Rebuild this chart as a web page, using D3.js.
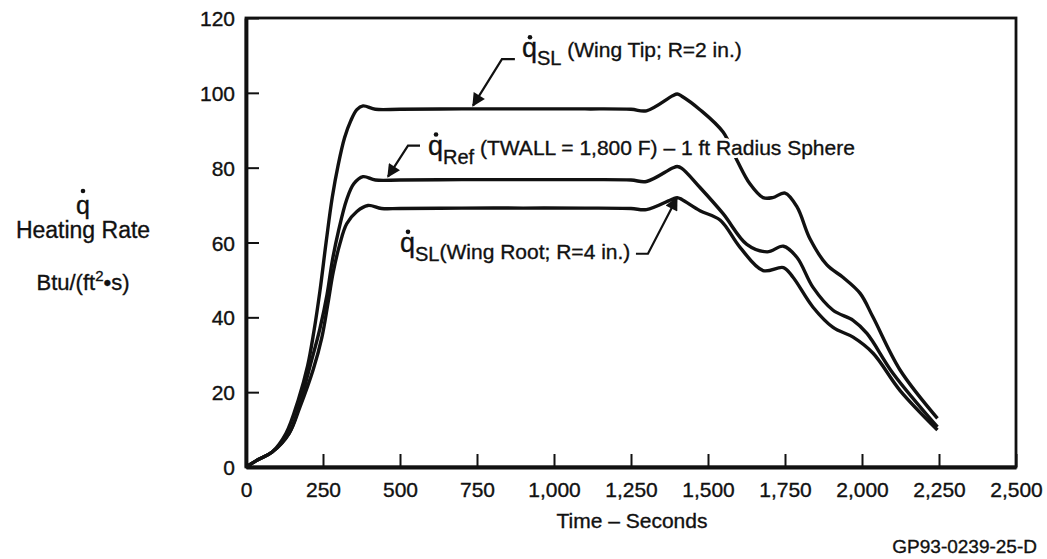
<!DOCTYPE html>
<html>
<head>
<meta charset="utf-8">
<script src="https://cdn.jsdelivr.net/npm/d3@7"></script>
<style>
  body { margin: 0; background: #fff; }
  text { font-family: "Liberation Sans", Arial, sans-serif; fill: #111; stroke: #111; stroke-width: 0.35px; }
  text.halo { fill: #fff; stroke: #fff; stroke-width: 6px; stroke-linejoin: round; }
</style>
</head>
<body>
<script>
// tick values
var timeTicks = [0, 250, 500, 750, 1000, 1250, 1500, 1750, 2000, 2250, 2500];
var rateTicks = [0, 20, 40, 60, 80, 100, 120];

// q_SL wing tip (R = 2 in.)
var tipTime = [0, 40, 85, 130, 170, 200, 220, 240, 260, 280, 300, 320, 340, 360, 380, 420, 500, 700, 900, 1100, 1250, 1300, 1385, 1400, 1415, 1474, 1549, 1594, 1636, 1679, 1710, 1750, 1789, 1831, 1886, 1938, 1994, 2036, 2123, 2245];
var tipRate = [0, 2, 4, 9, 18, 27, 36, 47, 60, 72, 81, 88, 92.5, 95.5, 96.5, 95.6, 95.6, 95.7, 95.7, 95.7, 95.6, 95.2, 99.2, 99.7, 99.1, 95.5, 89.5, 82, 75.7, 72, 72, 73.2, 69.5, 61, 54, 50.7, 46.4, 40, 26, 13];

// q_Ref (TWALL = 1,800 F), 1 ft radius sphere
var refTime = [0, 40, 85, 140, 175, 208, 240, 263, 280, 300, 327, 350, 380, 420, 500, 700, 900, 1100, 1250, 1300, 1385, 1400, 1415, 1474, 1549, 1626, 1692, 1745, 1789, 1841, 1906, 1971, 2016, 2101, 2245];
var refRate = [0, 2, 4, 9, 17, 27, 37, 46, 55, 63, 71.5, 75.7, 77.6, 76.7, 76.7, 76.8, 76.8, 76.8, 76.7, 76.3, 79.9, 80.3, 79.8, 74.7, 67.7, 59.5, 57.5, 59, 56, 48, 41.9, 39.2, 35.7, 25, 10.7];

// q_SL wing root (R = 4 in.)
var rootTime = [0, 40, 85, 140, 175, 218, 246, 266, 283, 305, 327, 360, 396, 440, 500, 700, 900, 1100, 1250, 1300, 1385, 1400, 1415, 1474, 1539, 1604, 1679, 1745, 1776, 1841, 1906, 1971, 2036, 2123, 2245];
var rootRate = [0, 2, 4, 9, 16, 26, 34.5, 43.7, 52, 59.7, 65, 68.3, 69.9, 69.1, 69.1, 69.2, 69.2, 69.2, 69.1, 68.8, 71.6, 72, 71.5, 68.5, 66, 58.7, 52.5, 53.3, 50.7, 42.7, 37.3, 34.7, 30.4, 20.5, 9.9];

// annotation labels
var labelSub = ['SL', 'Ref', 'SL'];
var labelText = [' (Wing Tip; R=2 in.)', ' (TWALL = 1,800 F) \u2013 1 ft Radius Sphere', '(Wing Root; R=4 in.)'];

var width = 1047, height = 559;
var margin = { top: 18, right: 31, bottom: 92, left: 246 };
var plotWidth = width - margin.left - margin.right;
var plotHeight = height - margin.top - margin.bottom;

var svg = d3.select('body').append('svg')
  .attr('width', width)
  .attr('height', height);

svg.append('defs').append('marker')
  .attr('id', 'head')
  .attr('viewBox', '0 0 10 10')
  .attr('refX', 9).attr('refY', 5)
  .attr('markerWidth', 7).attr('markerHeight', 6)
  .attr('markerUnits', 'strokeWidth')
  .attr('orient', 'auto')
  .append('path')
  .attr('d', 'M0,0 L10,5 L0,10 Z')
  .attr('fill', '#111');

var g = svg.append('g')
  .attr('transform', 'translate(' + margin.left + ',' + margin.top + ')');

var x = d3.scaleLinear().domain([0, 2500]).range([0, plotWidth]);
var y = d3.scaleLinear().domain([0, 120]).range([plotHeight, 0]);

// frame (top and right)
g.append('rect')
  .attr('width', plotWidth).attr('height', plotHeight)
  .attr('fill', 'none').attr('stroke', '#111').attr('stroke-width', 2.8);

// axes with inward ticks
var xAxis = d3.axisBottom(x).tickValues(timeTicks)
  .tickSizeInner(-13).tickSizeOuter(0).tickPadding(15)
  .tickFormat(d3.format(','));
var yAxis = d3.axisLeft(y).tickValues(rateTicks)
  .tickSizeInner(-13).tickSizeOuter(0).tickPadding(11);

var xg = g.append('g').attr('transform', 'translate(0,' + plotHeight + ')').call(xAxis);
var yg = g.append('g').call(yAxis);

[xg, yg].forEach(function(ax) {
  ax.select('.domain').attr('stroke', '#111').attr('stroke-width', 3.8);
  ax.selectAll('.tick line').attr('stroke', '#111').attr('stroke-width', 2);
  ax.selectAll('.tick text')
    .attr('fill', '#111')
    .style('font-family', '"Liberation Sans", Arial, sans-serif')
    .style('font-size', '21px');
});
yg.selectAll('.tick text').attr('dy', '0.36em');

// curves
var line = d3.line()
  .x(function(d) { return x(d[0]); })
  .y(function(d) { return y(d[1]); })
  .curve(d3.curveCatmullRom.alpha(0.5));

var series = [
  d3.zip(tipTime, tipRate),
  d3.zip(refTime, refRate),
  d3.zip(rootTime, rootRate)
];

g.selectAll('path.curve')
  .data(series)
  .enter().append('path')
  .attr('class', 'curve')
  .attr('d', line)
  .attr('fill', 'none')
  .attr('stroke', '#111')
  .attr('stroke-width', 3.4)
  .attr('stroke-linejoin', 'round');

// annotations: q anchor [time, rate], leader [start, elbow, arrow tip]
var labelPos = [[896, 109.5], [591, 83.5], [500, 57.5]];
var subShift = [8, 9, 9];
var textShift = [-8, -9, -2];
var leaders = [
  [[873, 109], [831, 109], [737, 96.6]],
  [[565, 85.9], [526, 85.9], [461, 77.6]],
  [[1266, 57], [1305, 57], [1399, 71.9]]
];

leaders.forEach(function(pts) {
  g.append('path')
    .attr('d', d3.line().x(function(d) { return x(d[0]); }).y(function(d) { return y(d[1]); })(pts))
    .attr('fill', 'none')
    .attr('stroke', '#111')
    .attr('stroke-width', 2.2)
    .attr('marker-end', 'url(#head)');
});

function drawLabel(p, i, cls) {
  var t = g.append('text')
    .attr('class', cls)
    .attr('x', x(p[0]))
    .attr('y', y(p[1]));
  t.append('tspan').text('q').style('font-size', '27px');
  t.append('tspan').text(labelSub[i]).attr('dy', subShift[i]).style('font-size', '20px');
  t.append('tspan').text(labelText[i]).attr('dy', textShift[i]).style('font-size', '21px');
}

labelPos.forEach(function(p, i) {
  drawLabel(p, i, 'halo');
  drawLabel(p, i, null);
  g.append('circle')
    .attr('cx', x(p[0]) + 8)
    .attr('cy', y(p[1]) - 20)
    .attr('r', 2.3)
    .attr('fill', '#111');
});

// y axis title
var yTitle = svg.append('g').attr('transform', 'translate(83,0)');
yTitle.append('circle').attr('cx', 0).attr('cy', 191).attr('r', 2.3).attr('fill', '#111');
yTitle.append('text').attr('y', 214).attr('text-anchor', 'middle').style('font-size', '25px').text('q');
yTitle.append('text').attr('y', 238).attr('text-anchor', 'middle').style('font-size', '23px').text('Heating Rate');
var unit = yTitle.append('text').attr('y', 290).attr('text-anchor', 'middle').style('font-size', '22px');
unit.append('tspan').text('Btu/(ft');
unit.append('tspan').text('2').attr('dy', -9).style('font-size', '15px');
unit.append('tspan').text('\u2022s)').attr('dy', 9);

// x axis title and figure id
svg.append('text')
  .attr('x', 632)
  .attr('y', 528)
  .attr('text-anchor', 'middle')
  .style('font-size', '21px')
  .text('Time \u2013 Seconds');

svg.append('text')
  .attr('x', 1037)
  .attr('y', 553)
  .attr('text-anchor', 'end')
  .style('font-size', '19px')
  .text('GP93-0239-25-D');
</script>
</body>
</html>
